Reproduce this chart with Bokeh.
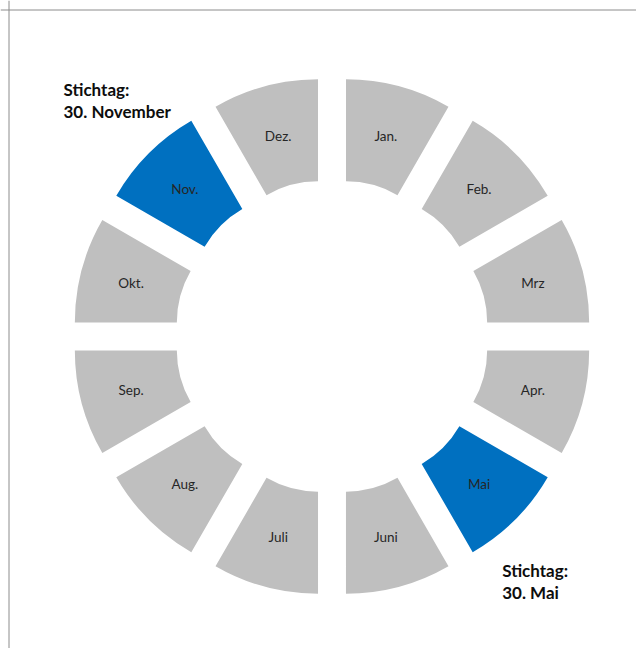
import math
from bokeh.plotting import figure
from bokeh.models import ColumnDataSource, Range1d, Span
from bokeh.core.properties import value
from bokeh.embed import file_html
from bokeh.resources import INLINE

# ---- data ----
months = ["Jan.", "Feb.", "Mrz", "Apr.", "Mai", "Juni",
          "Juli", "Aug.", "Sep.", "Okt.", "Nov.", "Dez."]
shares = [1, 1, 1, 1, 1, 1, 1, 1, 1, 1, 1, 1]
highlighted = ["Mai", "Nov."]
note_lines_nov = ["Stichtag:", "30. November"]
note_lines_mai = ["Stichtag:", "30. Mai"]

# ---- layout / style ----
W, H = 636, 648
CX, CY = 331.5, 336.0          # donut centre in figure pixels (from top-left)
R_IN, R_OUT, EXPLODE = 103, 205, 54
GRAY, BLUE = "#BFBFBF", "#0070C0"
FONT = "Lato"

total = float(sum(shares))
xs, ys, starts, ends, colors, lx, ly = [], [], [], [], [], [], []
cum = 0.0
for m, s in zip(months, shares):
    a_end = math.pi / 2 - 2 * math.pi * cum / total
    cum += s
    a_start = math.pi / 2 - 2 * math.pi * cum / total
    mid = (a_start + a_end) / 2
    ox, oy = EXPLODE * math.cos(mid), EXPLODE * math.sin(mid)
    xs.append(ox)
    ys.append(oy)
    starts.append(a_start)
    ends.append(a_end)
    colors.append(BLUE if m in highlighted else GRAY)
    rl = (R_IN + R_OUT) / 2 + EXPLODE
    lx.append(rl * math.cos(mid))
    ly.append(rl * math.sin(mid))

src = ColumnDataSource(dict(x=xs, y=ys, start=starts, end=ends, color=colors,
                            lx=lx, ly=ly, label=months))

p = figure(width=W, height=H, output_backend="svg", toolbar_location=None,
           x_range=Range1d(-CX, W - CX), y_range=Range1d(-(H - CY), CY),
           min_border=0, outline_line_color=None, background_fill_color="white",
           border_fill_color="white")
p.axis.visible = False
p.grid.visible = False

p.annular_wedge(x="x", y="y", inner_radius=R_IN, outer_radius=R_OUT,
                start_angle="start", end_angle="end", fill_color="color",
                line_color=None, source=src)

p.text(x="lx", y="ly", text="label", source=src, text_align="center",
       text_baseline="middle", text_font=value(FONT), text_font_size="13.5px",
       text_color="#262626")

# annotations (positions relative to donut centre, y up)
def note(lines, x, y0, dy):
    p.text(x=[x] * len(lines), y=[y0 - i * dy for i in range(len(lines))],
           text=lines, text_align="left", text_baseline="alphabetic",
           text_font=value(FONT), text_font_size="17px",
           text_font_style="bold", text_color="#0d0d0d")

note(note_lines_nov, -268.5, 247.0, 21.7)
note(note_lines_mai, 170.2, -234.0, 21.7)

# frame lines (top and left only, the picture is a crop)
p.add_layout(Span(location=CY - 9.5, dimension="width", line_color="#8c8c8c", line_width=1))
p.add_layout(Span(location=-CX + 8.5, dimension="height", line_color="#8c8c8c", line_width=1))

open("out.html", "w").write(file_html(p, INLINE))
